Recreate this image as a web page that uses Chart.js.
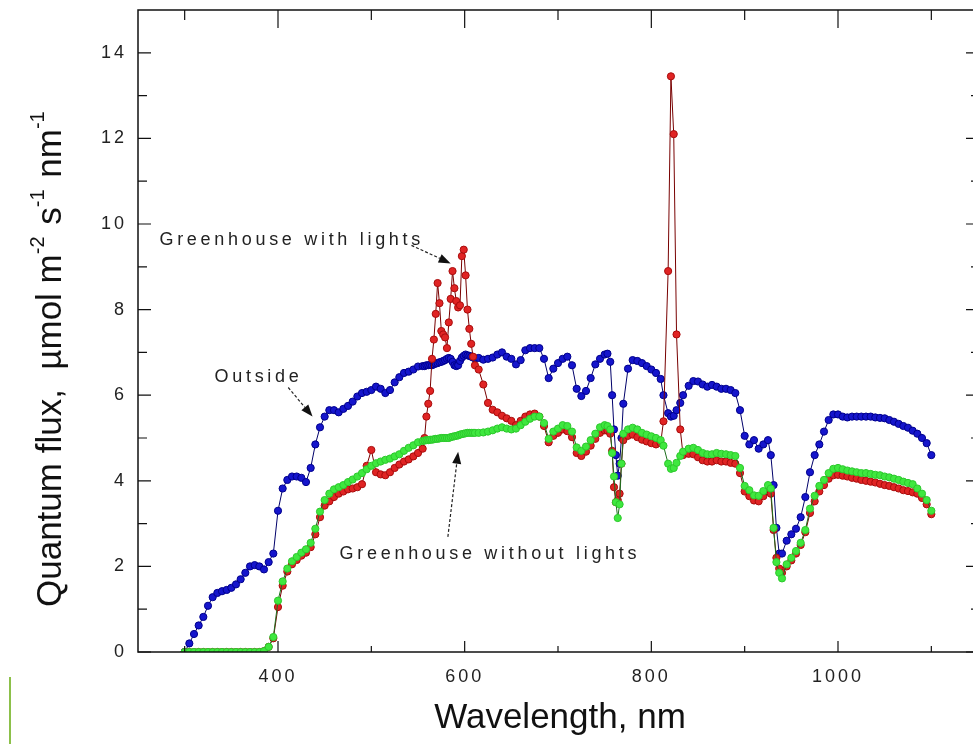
<!DOCTYPE html>
<html>
<head>
<meta charset="utf-8">
<script src="https://cdn.jsdelivr.net/npm/chart.js@4.4.1/dist/chart.umd.min.js"></script>
<style>
  html, body { margin: 0; padding: 0; background: #fff; overflow: hidden; }
  #wrap { position: relative; width: 1000px; height: 744px; }
</style>
</head>
<body>
<div id="wrap"><canvas id="spectrum"></canvas></div>
<script>
// wavelength grid (nm), finer where the spectra change fast
const wavelength = [
  300, 305, 310, 315, 320, 325, 330, 335, 340, 345, 350, 355, 360, 365, 370, 375, 380, 385, 390, 395,
  400, 405, 410, 415, 420, 425, 430, 435, 440, 445, 450, 455, 460, 465, 470, 475, 480, 485, 490, 495,
  500, 505, 510, 515, 520, 525, 530, 535, 540, 545, 550, 555,
  557, 559, 561, 563, 565, 567, 569, 571, 573, 575, 577, 579, 581, 583, 585, 587, 589, 591, 593, 595,
  597, 599, 601, 603, 605, 607, 609, 611,
  615, 620, 625, 630, 635, 640, 645, 650, 655, 660, 665, 670, 675, 680, 685, 690, 695, 700, 705, 710,
  715, 720, 725, 730, 735, 740, 745, 750,
  753, 756, 758, 760, 762, 764, 766, 768, 770,
  775, 780, 785, 790, 795, 800, 805, 810,
  813, 818, 821, 824, 827, 831, 834,
  840, 845, 850, 855, 860, 865, 870, 875, 880, 885, 890, 895, 900, 905, 910, 915, 920, 925,
  928, 931, 934, 937, 940,
  945, 950, 955, 960, 965, 970, 975, 980, 985, 990, 995, 1000, 1005, 1010, 1015, 1020, 1025, 1030,
  1035, 1040, 1045, 1050, 1055, 1060, 1065, 1070, 1075, 1080, 1085, 1090, 1095, 1100
];

// quantum flux, umol m-2 s-1 nm-1
const outside = [
  0, 0.2, 0.42, 0.62, 0.82, 1.08, 1.28, 1.38, 1.42, 1.45, 1.5, 1.58, 1.7, 1.85, 2.0, 2.03, 2.0, 1.93, 2.1, 2.3,
  3.3, 3.82, 4.02, 4.1, 4.1, 4.07, 3.97, 4.3, 4.85, 5.25, 5.5, 5.65, 5.65, 5.6, 5.68, 5.75, 5.85, 5.97, 6.05, 6.08,
  6.12, 6.2, 6.15, 6.05, 6.12, 6.3, 6.42, 6.52, 6.55, 6.6, 6.67, 6.68,
  6.68, 6.7, 6.7, 6.71, 6.7, 6.72, 6.74, 6.75, 6.77, 6.78, 6.8, 6.82, 6.85, 6.87, 6.85, 6.78, 6.7, 6.68, 6.7, 6.8,
  6.88, 6.92, 6.95, 6.93, 6.92, 6.9, 6.88, 6.86,
  6.87, 6.83, 6.85, 6.88, 6.95, 7.0, 6.9, 6.85, 6.72, 6.82, 7.05, 7.1, 7.1, 7.1, 6.85, 6.4, 6.62, 6.75, 6.85, 6.9,
  6.7, 6.15, 5.98, 6.1, 6.4, 6.72, 6.85, 6.95,
  6.97, 6.78, 6.0, 5.2, 4.6, 4.12, 4.4, 5.0, 5.8,
  6.62, 6.82, 6.8, 6.75, 6.68, 6.6, 6.52, 6.38,
  6.0, 5.58, 5.5, 5.52, 5.65, 5.82, 6.0,
  6.22, 6.33, 6.32, 6.25, 6.2, 6.24, 6.2, 6.15, 6.15, 6.12, 6.05, 5.65, 5.05, 4.85, 4.95, 4.75, 4.85, 4.95,
  4.6, 3.9, 2.9, 2.3, 2.3,
  2.6, 2.75, 2.88, 3.15, 3.62, 4.2, 4.6, 4.85, 5.15, 5.42, 5.55, 5.55, 5.5, 5.48, 5.5, 5.5, 5.5, 5.5,
  5.5, 5.48, 5.47, 5.46, 5.42, 5.38, 5.33, 5.28, 5.24, 5.17, 5.1, 5.0, 4.88, 4.6
];

const withLights = [
  0, 0, 0, 0, 0, 0, 0, 0, 0, 0, 0, 0, 0, 0, 0, 0, 0, 0.02, 0.12, 0.32,
  1.05, 1.55, 1.88, 2.05, 2.15, 2.25, 2.32, 2.45, 2.75, 3.15, 3.42, 3.52, 3.62, 3.7, 3.75, 3.8, 3.82, 3.85, 3.92, 4.35,
  4.72, 4.2, 4.15, 4.13, 4.2, 4.3, 4.38, 4.45, 4.5, 4.57, 4.65, 4.75,
  5.0, 5.5, 5.8, 6.1, 6.85, 7.3, 7.9, 8.62, 8.15, 7.5, 7.42, 7.35, 7.1, 7.7, 8.25, 8.9, 8.5, 8.2, 8.05, 8.1,
  9.25, 9.4, 8.8, 8.0, 7.55, 7.2, 6.9, 6.7,
  6.6, 6.25, 5.82, 5.66, 5.6, 5.52, 5.46, 5.4, 5.3, 5.4, 5.5, 5.55, 5.57, 5.5, 5.28, 4.9, 5.05, 5.12, 5.2, 5.16,
  5.02, 4.65, 4.58, 4.68, 4.82, 4.98, 5.12, 5.18,
  5.17, 5.1, 4.7, 3.85, 3.5, 3.55, 3.7, 4.4, 4.95,
  5.05, 5.08, 5.02, 4.96, 4.92, 4.88, 4.85, 4.88,
  5.39, 8.9, 13.45, 12.1, 7.42, 5.2, 4.6,
  4.63, 4.62, 4.55, 4.48, 4.45, 4.45, 4.48, 4.45, 4.45, 4.42, 4.4, 4.18, 3.75, 3.64, 3.54, 3.52, 3.64, 3.75,
  3.7, 2.85, 2.2, 1.95, 1.85,
  2.0, 2.14, 2.3, 2.5, 2.8, 3.25, 3.52, 3.75, 3.9, 4.05, 4.13, 4.14, 4.12, 4.1, 4.07, 4.05, 4.02, 4.0,
  3.98, 3.96, 3.93, 3.9, 3.88, 3.85, 3.82, 3.78, 3.76, 3.73, 3.7, 3.6, 3.45, 3.22
];

const withoutLights = [
  0, 0, 0, 0, 0, 0, 0, 0, 0, 0, 0, 0, 0, 0, 0, 0, 0, 0.02, 0.12, 0.35,
  1.2, 1.65, 1.95, 2.12, 2.22, 2.32, 2.4, 2.55, 2.88, 3.28, 3.55, 3.7, 3.8, 3.85, 3.9, 3.97, 4.03, 4.1, 4.18, 4.27,
  4.35, 4.41, 4.45, 4.49, 4.52, 4.57, 4.62, 4.7, 4.77, 4.83, 4.9, 4.93,
  4.94, 4.95, 4.95, 4.96, 4.96, 4.97, 4.98, 4.98, 4.99, 5.0, 5.0, 5.0, 5.0, 5.0, 5.02, 5.03, 5.04, 5.05, 5.06, 5.08,
  5.09, 5.1, 5.11, 5.12, 5.12, 5.12, 5.12, 5.12,
  5.12, 5.13, 5.15, 5.18, 5.22, 5.25, 5.22, 5.2, 5.22, 5.3, 5.38, 5.45, 5.5, 5.5, 5.35, 4.98, 5.15, 5.22, 5.3, 5.28,
  5.15, 4.78, 4.7, 4.8, 4.95, 5.1, 5.25, 5.3,
  5.28, 5.2, 4.65, 4.1, 3.5, 3.13, 3.45, 4.4, 5.1,
  5.2, 5.24, 5.2, 5.12, 5.08, 5.04, 5.0, 4.95,
  4.82, 4.4, 4.28, 4.3, 4.42, 4.58, 4.68,
  4.75, 4.77, 4.72, 4.65, 4.62, 4.62, 4.65, 4.63, 4.62, 4.6, 4.58, 4.3, 3.88, 3.78, 3.66, 3.65, 3.76, 3.9,
  3.82, 2.9, 2.1, 1.85, 1.72,
  2.05, 2.2, 2.36, 2.55, 2.85, 3.35, 3.65, 3.88, 4.02, 4.18, 4.28, 4.3, 4.27, 4.24, 4.22, 4.2, 4.18, 4.18,
  4.16, 4.14, 4.13, 4.1, 4.08, 4.05, 4.02, 3.98, 3.95, 3.92, 3.82, 3.7, 3.55, 3.3
];

// axis ticks
const xMajor = [400, 600, 800, 1000];
const xMinor = [300, 500, 700, 900, 1100];
const yMajor = [0, 2, 4, 6, 8, 10, 12, 14];
const yMinor = [1, 3, 5, 7, 9, 11, 13];

const xTitle = 'Wavelength, nm';
const yTitle = [
  { text: 'Quantum flux,  \u00b5mol m', sup: false },
  { text: '-2', sup: true },
  { text: ' s', sup: false },
  { text: '-1', sup: true },
  { text: ' nm', sup: false },
  { text: '-1', sup: true }
];

// callouts: text anchor and arrow ends, in data units
const notes = [
  { text: 'Greenhouse with lights', at: [273, 9.52], from: [543, 9.5], to: [585, 9.08] },
  { text: 'Outside', at: [332, 6.32], from: [411, 6.18], to: [437, 5.5] },
  { text: 'Greenhouse without lights', at: [466, 2.18], from: [582, 2.69], to: [593, 4.68] }
];

const FONT = '"Liberation Sans", Arial, sans-serif';

function toPoints(ys) {
  return wavelength.map((w, i) => ({ x: w, y: ys[i] }));
}

function arrow(ctx, x1, y1, x2, y2) {
  const ang = Math.atan2(y2 - y1, x2 - x1);
  const head = 12, half = 4.5;
  const bx = x2 - head * Math.cos(ang), by = y2 - head * Math.sin(ang);
  ctx.lineWidth = 1.2;
  ctx.setLineDash([3, 2]);
  ctx.beginPath();
  ctx.moveTo(x1, y1);
  ctx.lineTo(bx, by);
  ctx.stroke();
  ctx.setLineDash([]);
  ctx.beginPath();
  ctx.moveTo(x2, y2);
  ctx.lineTo(bx + half * Math.sin(ang), by - half * Math.cos(ang));
  ctx.lineTo(bx - half * Math.sin(ang), by + half * Math.cos(ang));
  ctx.closePath();
  ctx.fill();
}

// frame, inward tick marks, axis titles and callouts
const decorations = {
  id: 'decorations',
  beforeDraw(chart) {
    chart.ctx.letterSpacing = '3px';
  },
  beforeDatasetsDraw(chart) {
    chart.ctx.letterSpacing = '0px';
  },
  afterDraw(chart) {
    const { ctx, chartArea: a } = chart;
    const x = chart.scales.x, y = chart.scales.y;
    ctx.save();
    ctx.strokeStyle = '#111';
    ctx.fillStyle = '#111';
    ctx.lineWidth = 1.5;
    ctx.strokeRect(a.left, a.top, a.right - a.left, a.bottom - a.top);

    ctx.lineWidth = 1.2;
    ctx.beginPath();
    const seg = (x1, y1, x2, y2) => { ctx.moveTo(x1, y1); ctx.lineTo(x2, y2); };
    xMajor.forEach(v => {
      const p = x.getPixelForValue(v);
      seg(p, a.bottom, p, a.bottom - 11);
      seg(p, a.top, p, a.top + 18);
    });
    xMinor.forEach(v => {
      const p = x.getPixelForValue(v);
      seg(p, a.bottom, p, a.bottom - 6);
      seg(p, a.top, p, a.top + 10);
    });
    yMajor.forEach(v => {
      const p = y.getPixelForValue(v);
      seg(a.left, p, a.left + 13, p);
      seg(a.right, p, a.right - 12, p);
    });
    yMinor.forEach(v => {
      const p = y.getPixelForValue(v);
      seg(a.left, p, a.left + 9, p);
      seg(a.right, p, a.right - 7, p);
    });
    ctx.stroke();

    // axis titles
    ctx.font = '35px ' + FONT;
    ctx.textAlign = 'center';
    ctx.textBaseline = 'alphabetic';
    ctx.fillText(xTitle, 560, 728);

    ctx.save();
    ctx.translate(61, 607);
    ctx.rotate(-Math.PI / 2);
    ctx.textAlign = 'left';
    let off = 0;
    yTitle.forEach(part => {
      ctx.font = (part.sup ? '20px ' : '35px ') + FONT;
      ctx.fillText(part.text, off, part.sup ? -17 : 0);
      off += ctx.measureText(part.text).width + (part.sup ? 2 : 0);
    });
    ctx.restore();

    // callouts
    ctx.font = '18px ' + FONT;
    ctx.letterSpacing = '3.7px';
    ctx.textAlign = 'left';
    ctx.fillStyle = '#222';
    notes.forEach(n => {
      ctx.fillText(n.text, x.getPixelForValue(n.at[0]), y.getPixelForValue(n.at[1]));
    });
    ctx.letterSpacing = '0px';
    ctx.fillStyle = '#111';
    ctx.strokeStyle = '#222';
    notes.forEach(n => {
      arrow(ctx,
        x.getPixelForValue(n.from[0]), y.getPixelForValue(n.from[1]),
        x.getPixelForValue(n.to[0]), y.getPixelForValue(n.to[1]));
    });

    // green edge strip at the lower left
    ctx.fillStyle = '#8cc04a';
    ctx.fillRect(9, 677, 2, 67);
    ctx.restore();
  }
};

const seriesStyle = (fill, edge, line) => ({
  showLine: true,
  borderColor: line,
  borderWidth: 1,
  pointRadius: 3.6,
  pointBorderWidth: 1,
  pointBackgroundColor: fill,
  pointBorderColor: edge,
  tension: 0
});

new Chart(document.getElementById('spectrum'), {
  type: 'scatter',
  data: {
    datasets: [
      { label: 'Greenhouse without lights', data: toPoints(withoutLights), ...seriesStyle('#3fe83f', '#2cc82c', '#1d6e1d') },
      { label: 'Greenhouse with lights', data: toPoints(withLights), ...seriesStyle('#e02424', '#a80c0c', '#780000') },
      { label: 'Outside', data: toPoints(outside), ...seriesStyle('#1515cc', '#00008c', '#00006a') }
    ]
  },
  options: {
    responsive: true,
    maintainAspectRatio: false,
    animation: false,
    layout: { padding: { top: 10, right: 22, left: 0, bottom: 0 } },
    plugins: {
      legend: { display: false },
      tooltip: { enabled: false }
    },
    scales: {
      x: {
        type: 'linear',
        min: 250,
        max: 1150,
        grid: { display: false, drawTicks: false },
        border: { display: false },
        afterBuildTicks: s => { s.ticks = xMajor.map(v => ({ value: v })); },
        afterFit: s => { s.height = 92; s.paddingLeft = 0; s.paddingRight = 0; },
        ticks: {
          padding: 14,
          maxRotation: 0,
          color: '#222',
          font: { family: FONT, size: 18 },
          callback: v => String(v)
        }
      },
      y: {
        min: 0,
        max: 15,
        grid: { display: false, drawTicks: false },
        border: { display: false },
        afterBuildTicks: s => { s.ticks = yMajor.map(v => ({ value: v })); },
        afterFit: s => { s.width = 138; s.paddingTop = 0; s.paddingBottom = 0; },
        ticks: {
          padding: 11,
          color: '#222',
          font: { family: FONT, size: 18 },
          callback: v => String(v)
        }
      }
    }
  },
  plugins: [decorations]
});
</script>
</body>
</html>
